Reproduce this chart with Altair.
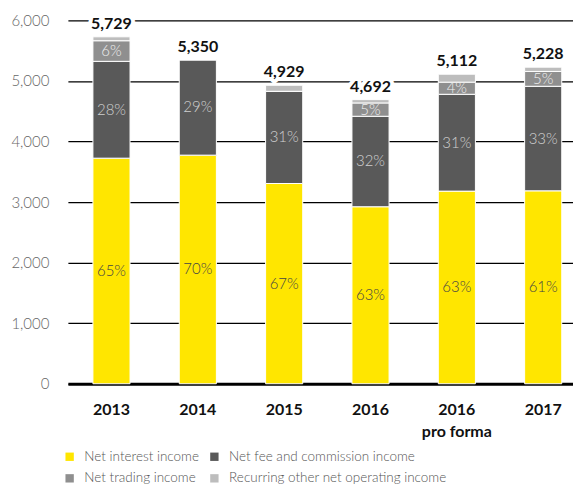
import altair as alt
import pandas as pd

years = ["2013", "2014", "2015", "2016", "2016 pro forma", "2017"]
series = ["Net interest income", "Net fee and commission income",
          "Net trading income", "Recurring other net operating income"]
net_interest = [3725, 3775, 3307, 2923, 3181, 3186]
net_fee = [1599, 1575, 1522, 1494, 1599, 1726]
net_trading = [340, 0, 0, 220, 200, 245]
other_income = [65, 0, 100, 55, 132, 71]
totals = [5729, 5350, 4929, 4692, 5112, 5228]
pct_interest = ["65%", "70%", "67%", "63%", "63%", "61%"]
pct_fee = ["28%", "29%", "31%", "32%", "31%", "33%"]
pct_trading = ["6%", "", "", "5%", "4%", "5%"]
pct_other = ["", "", "", "", "", ""]
colors = ["#FFE600", "#595959", "#8F8F8F", "#BDBDBD"]
label_colors = ["#444444", "#d0d0d0", "#eeeeee", "#ffffff"]

rows = []
vals = [net_interest, net_fee, net_trading, other_income]
pcts = [pct_interest, pct_fee, pct_trading, pct_other]
for i, y in enumerate(years):
    base = 0
    for k, s in enumerate(series):
        v = vals[k][i]
        rows.append({"year": y, "series": s, "order": k, "value": v,
                     "mid": base + v / 2, "pct": pcts[k][i],
                     "lcolor": label_colors[k]})
        base += v
df = pd.DataFrame(rows)
tot = pd.DataFrame({"year": years, "total": totals})

# legend fills column by column: reorder so rows read interest/fee, trading/other
legend_domain = [series[0], series[2], series[1], series[3]]
legend_range = [colors[0], colors[2], colors[1], colors[3]]

FONT = "Lato"

x = alt.X("year:N", sort=years, title=None,
          scale=alt.Scale(paddingInner=0.57, paddingOuter=0.21, align=0.69),
          axis=alt.Axis(labelAngle=0, labelFont=FONT, labelFontSize=16,
                        labelFontWeight="bold", labelColor="#111111",
                        labelPadding=18, ticks=False, domainColor="#000000",
                        domainWidth=3, labelLineHeight=22,
                        labelExpr="datum.value == '2016 pro forma' ? ['2016', 'pro forma'] : datum.value"))
yscale = alt.Scale(domain=[0, 6000])

bars = alt.Chart(df).mark_bar(stroke="white", strokeWidth=1).encode(
    x=x,
    y=alt.Y("value:Q", stack="zero", scale=yscale, title=None,
            axis=alt.Axis(values=[0, 1000, 2000, 3000, 4000, 5000, 6000],
                          format=",.0f", labelFont=FONT, labelFontSize=15,
                          labelFontWeight=300,
                          labelColor="#666666", labelPadding=19, ticks=False,
                          domain=False, gridColor="#000000", gridWidth=1.2)),
    color=alt.Color("series:N",
                    scale=alt.Scale(domain=legend_domain, range=legend_range),
                    legend=alt.Legend(title=None, orient="none", legendX=-5,
                                      legendY=430, columns=2, symbolType="square",
                                      symbolSize=70, symbolStrokeWidth=0,
                                      labelFont=FONT, labelFontSize=13.5,
                                      labelFontWeight=300, labelLimit=400,
                                      labelColor="#555555", columnPadding=8,
                                      rowPadding=7, labelOffset=8)),
    order=alt.Order("order:Q"),
)

pct = alt.Chart(df).mark_text(font=FONT, fontSize=15, fontWeight=300,
                              baseline="middle").encode(
    x=alt.X("year:N", sort=years),
    y=alt.Y("mid:Q", scale=yscale),
    text="pct:N",
    color=alt.Color("lcolor:N", scale=None),
)

halo = alt.Chart(tot).mark_text(font=FONT, fontSize=16, fontWeight="bold",
                                baseline="bottom", dy=-5, stroke="white",
                                strokeWidth=8, color="white").encode(
    x=alt.X("year:N", sort=years),
    y=alt.Y("total:Q", scale=yscale),
    text=alt.Text("total:Q", format=","),
)
tlab = alt.Chart(tot).mark_text(font=FONT, fontSize=16, fontWeight="bold",
                                baseline="bottom", dy=-5, color="#111111").encode(
    x=alt.X("year:N", sort=years),
    y=alt.Y("total:Q", scale=yscale),
    text=alt.Text("total:Q", format=","),
)

chart = alt.layer(bars, pct, halo, tlab).properties(
    width=506, height=364,
    padding={"left": 2, "top": 5, "right": 0, "bottom": 0},
).configure_view(stroke=None).configure_axis(grid=True)
chart = chart.configure_axisX(grid=False)

chart.save("out.html", embed_options={"renderer": "svg", "actions": False})
